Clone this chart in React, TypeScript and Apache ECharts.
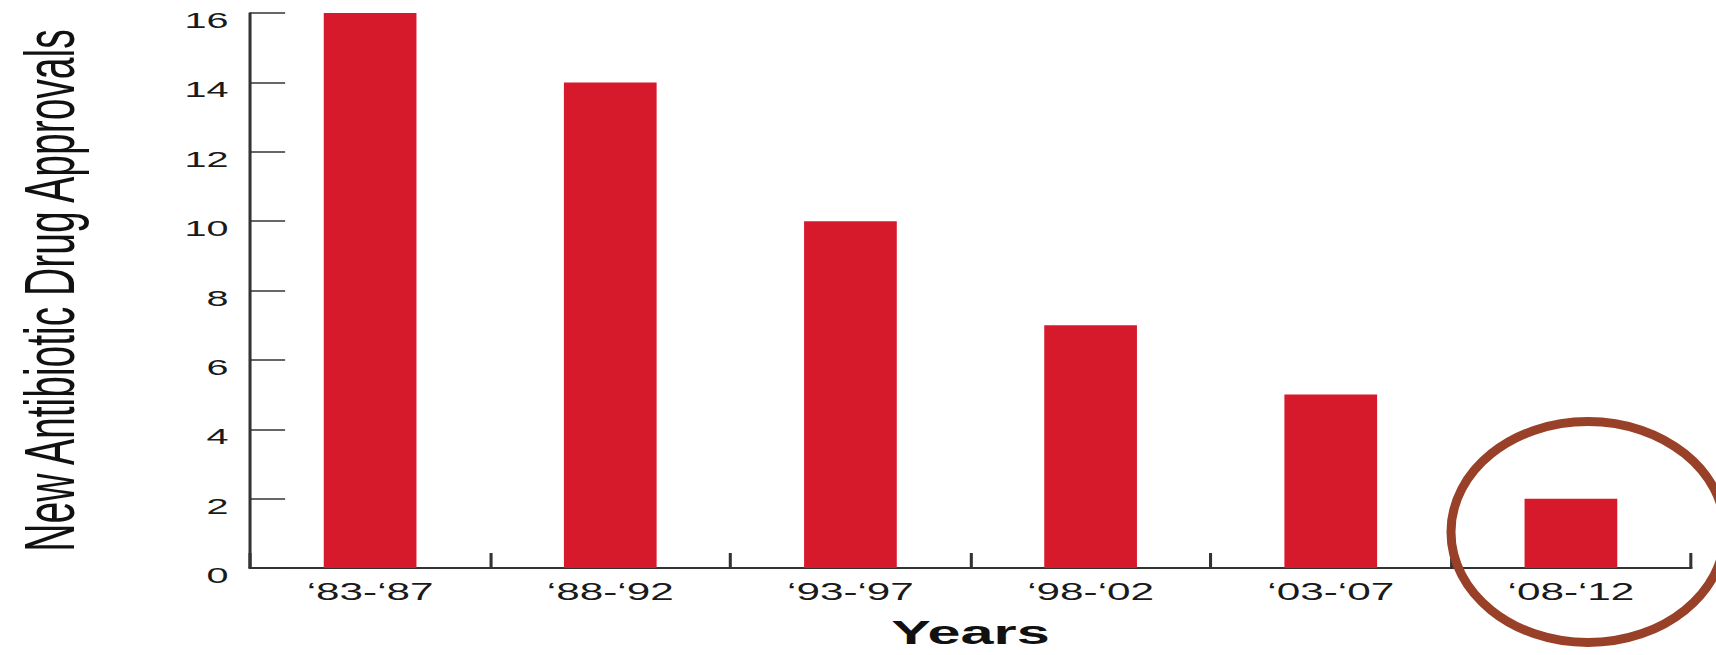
import React, { useEffect, useRef } from "react";
import * as echarts from "echarts";

const categories = ["‘83-‘87", "‘88-‘92", "‘93-‘97", "‘98-‘02", "‘03-‘07", "‘08-‘12"];
const approvals = [16, 14, 10, 7, 5, 2];
const yMin = 0;
const yMax = 16;
const yInterval = 2;
const yTitle = "New Antibiotic Drug Approvals";
const xTitle = "Years";

const BASE_W = 954;
const H = 655;
const STRETCH = 1716 / BASE_W;
const FONT = "'Liberation Sans', Arial, Helvetica, sans-serif";

export default function App() {
  const ref = useRef<HTMLDivElement>(null);
  useEffect(() => {
    if (!ref.current) return;
    const chart = echarts.init(ref.current, null, { renderer: "svg" });
    chart.setOption({
      animation: false,
      backgroundColor: "#ffffff",
      grid: { left: 137.9, right: 13.9, top: 13, bottom: 87, containLabel: false },
      xAxis: {
        type: "category",
        data: categories,
        boundaryGap: true,
        name: xTitle,
        nameLocation: "middle",
        nameGap: 48,
        nameTextStyle: { fontFamily: FONT, fontSize: 33, fontWeight: "bold", color: "#111" },
        axisLine: { lineStyle: { color: "#333", width: 2 } },
        axisTick: { show: true, inside: true, length: 15, alignWithLabel: false, lineStyle: { color: "#333", width: 1.7 } },
        axisLabel: { fontFamily: FONT, fontSize: 23.5, color: "#1a1a1a", margin: 12 },
        splitLine: { show: false },
      },
      yAxis: {
        type: "value",
        min: yMin,
        max: yMax,
        interval: yInterval,
        name: yTitle,
        nameLocation: "middle",
        nameRotate: 90,
        nameGap: 92,
        nameTextStyle: { fontFamily: FONT, fontSize: 39, color: "#111" },
        axisLine: { show: true, lineStyle: { color: "#333", width: 1.7 } },
        axisTick: { show: true, inside: true, length: 19.5, lineStyle: { color: "#333", width: 1.5 } },
        axisLabel: {
          fontFamily: FONT,
          fontSize: 22,
          color: "#1a1a1a",
          margin: 12,
          verticalAlign: "top",
          lineHeight: 15,
        },
        splitLine: { show: false },
      },
      series: [
        {
          type: "bar",
          data: approvals,
          barWidth: "38.6%",
          itemStyle: { color: "#D6192B" },
        },
      ],
      graphic: [
        {
          type: "ellipse",
          x: 1588 / STRETCH,
          y: 532,
          scaleX: 1 / STRETCH,
          shape: { cx: 0, cy: 0, rx: 137, ry: 110.5 },
          style: { fill: "none", stroke: "#984028", lineWidth: 9 },
          silent: true,
          z: 100,
        },
      ],
    });
    return () => chart.dispose();
  }, []);
  return (
    <div
      ref={ref}
      style={{
        position: "fixed",
        left: 0,
        top: 0,
        width: BASE_W + "px",
        height: H + "px",
        transform: `scaleX(${STRETCH})`,
        transformOrigin: "0 0",
        background: "#fff",
      }}
    />
  );
}
